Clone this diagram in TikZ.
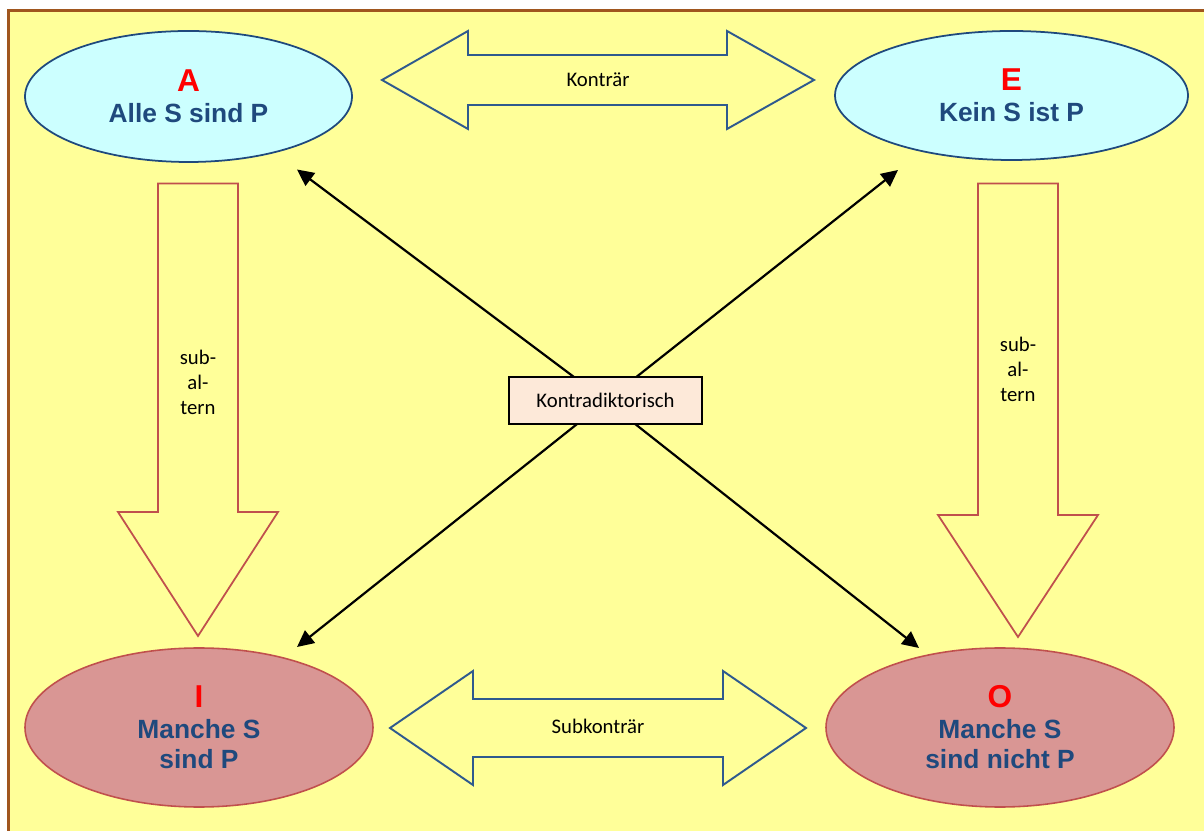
\documentclass[tikz,border=0pt]{standalone}
\usepackage{fontspec}
\setmainfont{Carlito}
\newfontfamily\headfont{Liberation Sans}
\usepackage{tikz}
\usetikzlibrary{shapes.geometric,arrows.meta}
\definecolor{SqBack}{HTML}{FFFF99}
\definecolor{SqFrame}{HTML}{A0561E}
\definecolor{SqCyan}{HTML}{CCFFFF}
\definecolor{SqNavy}{HTML}{1F497D}
\definecolor{SqBlue}{HTML}{2F5A8E}
\definecolor{SqRose}{HTML}{C0504D}
\definecolor{SqPink}{HTML}{D99694}
\definecolor{SqPeach}{HTML}{FDE9D9}
\definecolor{SqRed}{HTML}{FF0000}
\begin{document}
\begin{tikzpicture}[x=1cm,y=1cm,
  upper/.style={ellipse,draw=SqNavy,line width=1pt,fill=SqCyan,inner sep=0pt,
    align=center,text=SqNavy,font=\headfont\bfseries\fontsize{15}{17.6}\selectfont},
  lower/.style={ellipse,draw=SqRose,line width=0.9pt,fill=SqPink,inner sep=0pt,
    align=center,text=SqNavy,font=\headfont\bfseries\fontsize{15}{17.4}\selectfont},
  fat/.style={draw=SqBlue,line width=1.1pt,fill=SqBack,line join=miter},
  down/.style={draw=SqRose,line width=1pt,fill=SqBack,line join=miter},
  lbl/.style={align=center,inner sep=0pt,font=\fontsize{11.8}{14.2}\selectfont},
  link/.style={line width=1.25pt,-{Triangle[length=9.5pt,width=9pt]}}]
\path[use as bounding box] (0,0) rectangle (24.08,16.60);
\draw[SqFrame,fill=SqBack,line width=1.6pt] (0.17,-0.50) rectangle (24.60,16.39);
\draw[fat] (7.64,15.00) -- (9.36,15.98) -- (9.36,15.50) -- (14.54,15.50) -- (14.54,15.98)
  -- (16.28,15.00) -- (14.54,14.02) -- (14.54,14.50) -- (9.36,14.50) -- (9.36,14.02) -- cycle;
\node[lbl] (kontraer) at (11.96,15.00) {Konträr};
\draw[fat] (7.80,2.04) -- (9.46,3.18) -- (9.46,2.62) -- (14.46,2.62) -- (14.46,3.18)
  -- (16.12,2.04) -- (14.46,0.90) -- (14.46,1.46) -- (9.46,1.46) -- (9.46,0.90) -- cycle;
\node[lbl] (subkontraer) at (11.96,2.08) {Subkonträr};
\draw[down] (3.16,12.93) -- (4.76,12.93) -- (4.76,6.36) -- (5.56,6.36) -- (3.96,3.88)
  -- (2.36,6.36) -- (3.16,6.36) -- cycle;
\node[lbl] (subaltA) at (3.96,8.96) {sub-\\al-\\tern};
\draw[down] (19.56,12.93) -- (21.16,12.93) -- (21.16,6.30) -- (21.96,6.30) -- (20.36,3.86)
  -- (18.76,6.30) -- (19.56,6.30) -- cycle;
\node[lbl] (subaltE) at (20.36,9.22) {sub-\\al-\\tern};
\node[upper,minimum width=6.54cm,minimum height=2.62cm] (A) at (3.77,14.67)
  {{\fontsize{18}{17.6}\selectfont\color{SqRed}A}\\Alle S sind P};
\node[upper,minimum width=7.06cm,minimum height=2.58cm] (E) at (20.23,14.69)
  {{\fontsize{18}{17.6}\selectfont\color{SqRed}E}\\Kein S ist P};
\node[lower,minimum width=6.96cm,minimum height=3.18cm] (I) at (3.98,2.05)
  {{\fontsize{18}{17.4}\selectfont\color{SqRed}I}\\Manche S\\sind P};
\node[lower,minimum width=6.96cm,minimum height=3.18cm] (O) at (20.00,2.05)
  {{\fontsize{18}{17.4}\selectfont\color{SqRed}O}\\Manche S\\sind nicht P};
\coordinate (mitte) at (12.12,8.58);
\coordinate (tipA) at (5.94,13.21);
\coordinate (tipE) at (17.96,13.20);
\coordinate (tipI) at (5.94,3.66);
\coordinate (tipO) at (18.38,3.64);
\draw[link] (mitte) -- (tipA);
\draw[link] (mitte) -- (tipE);
\draw[link] (mitte) -- (tipI);
\draw[link] (mitte) -- (tipO);
\node[lbl,draw,line width=0.9pt,fill=SqPeach,minimum width=3.86cm,minimum height=0.94cm]
  (kontra) at (12.11,8.59) {Kontradiktorisch};
\end{tikzpicture}
\end{document}
